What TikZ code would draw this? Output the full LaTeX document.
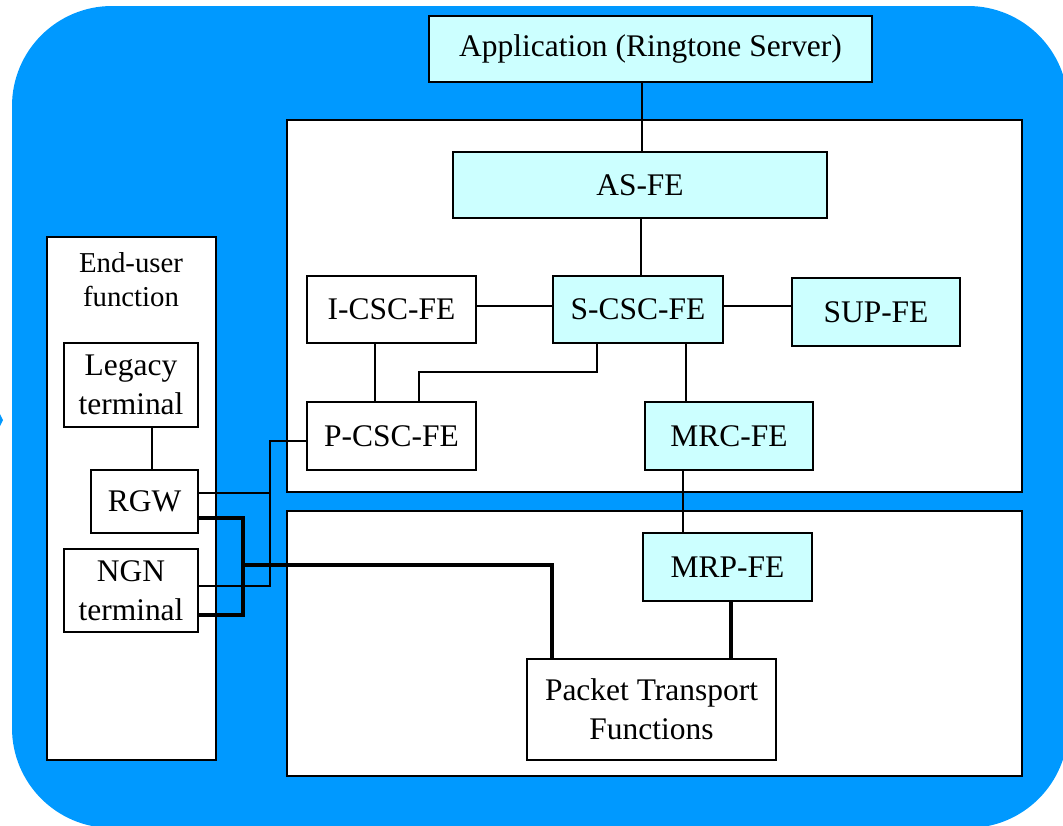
\documentclass[tikz,border=0pt]{standalone}
\usepackage{fontspec}
\setmainfont{Liberation Serif}
\usetikzlibrary{fit,calc}
\definecolor{bgblue}{RGB}{0,153,255}
\definecolor{lcyan}{RGB}{204,255,255}
\begin{document}
\begin{tikzpicture}[x=0.75pt,y=-0.75pt,
  box/.style={draw=black,line width=1.4pt,fill=white,inner sep=0pt},
  cbox/.style={box,fill=lcyan},
  lab/.style={inner sep=0pt,align=center,font=\fontsize{23.6}{29.5}\selectfont},
  conn/.style={draw=black,line width=1.5pt},
  tconn/.style={draw=black,line width=3pt},
]
\useasboundingbox (0,0) rectangle (1063,825);
\fill[bgblue,rounded corners=75pt] (12,6) rectangle (1068,828);
\fill[bgblue] (0,414) -- (3,420) -- (0,426) -- cycle;

% large panels
\node[box,fit={(287,120) (1022,492)}] (ctrl) {};
\node[box,fit={(287,511) (1022,776)}] (trans) {};
\node[box,fit={(47,237) (216,760)}] (eu) {};
\node[font=\fontsize{21.6}{26}\selectfont,align=center,anchor=north,inner sep=0pt] (eulab) at (131,252) {End-user\\function};

% functional entities
\node[cbox,fit={(429,16) (872,82)}] (app) {};
\node[cbox,fit={(453,152) (827,218)}] (asfe) {};
\node[box,fit={(307,276) (476,343)}] (icsc) {};
\node[cbox,fit={(553,276) (723,343)}] (scsc) {};
\node[cbox,fit={(792,278) (960,346)}] (sup) {};
\node[box,fit={(307,402) (476,470)}] (pcsc) {};
\node[cbox,fit={(645,402) (813,470)}] (mrc) {};
\node[cbox,fit={(643,533) (812,601)}] (mrp) {};
\node[box,fit={(527,659) (776,760)}] (ptf) {};
\node[box,fit={(64,343) (198,427)}] (legacy) {};
\node[box,fit={(91,470) (198,533)}] (rgw) {};
\node[box,fit={(64,549) (198,632)}] (ngn) {};

% labels
\node[lab] (appT) at (app.center) {Application (Ringtone Server)};
\node[lab] (asfeT) at (asfe.center) {AS-FE};
\node[lab] (icscT) at (icsc.center) {I-CSC-FE};
\node[lab] (scscT) at (scsc.center) {S-CSC-FE};
\node[lab] (supT) at (sup.center) {SUP-FE};
\node[lab] (pcscT) at (pcsc.center) {P-CSC-FE};
\node[lab] (mrcT) at (mrc.center) {MRC-FE};
\node[lab] (mrpT) at (mrp.center) {MRP-FE};
\node[lab] (ptfT) at (ptf.center) {Packet Transport\\Functions};
\node[lab] (legacyT) at (legacy.center) {Legacy\\terminal};
\node[lab] (rgwT) at (rgw.center) {RGW};
\node[lab] (ngnT) at (ngn.center) {NGN\\terminal};

% connectors
\draw[conn] ($(app.south west)+(214,0)$) coordinate (a1) -- (a1 |- asfe.north);
\draw[conn] ($(asfe.south west)+(189,0)$) coordinate (a2) -- (a2 |- scsc.north);
\draw[conn] ($(icsc.east)+(0,-4)$) -- ($(scsc.west)+(0,-4)$);
\draw[conn] ($(scsc.east)+(0,-4)$) coordinate (s3) -- (s3 -| sup.west);
\draw[conn] ($(icsc.south west)+(69,0)$) coordinate (i1) -- (i1 |- pcsc.north);
\draw[conn] ($(scsc.south west)+(45,0)$) |- ($(pcsc.north west)+(113,-29)$) -- ($(pcsc.north west)+(113,0)$);
\draw[conn] ($(scsc.south west)+(134,0)$) coordinate (s2) -- (s2 |- mrc.north);
\draw[conn] ($(mrc.south west)+(39,0)$) coordinate (m1) -- (m1 |- mrp.north);
\draw[tconn] ($(mrp.south west)+(89,0)$) coordinate (m2) -- (m2 |- ptf.north);
\draw[conn] ($(legacy.south west)+(89,0)$) coordinate (l1) -- (l1 |- rgw.north);
\draw[conn] ($(pcsc.west)+(0,5)$) -| ($(ngn.east)+(71,-4.5)$) -- ($(ngn.east)+(0,-4.5)$);
\draw[conn] ($(rgw.east)+(0,-8.5)$) -- ($(rgw.east)+(71,-8.5)$);
\draw[tconn] ($(rgw.east)+(0,16.5)$) -| ($(ngn.east)+(44,24.5)$) -- ($(ngn.east)+(0,24.5)$);
\draw[tconn] ($(ngn.east)+(44,-25.5)$) -| ($(ptf.north west)+(26,0)$);
\end{tikzpicture}
\end{document}
